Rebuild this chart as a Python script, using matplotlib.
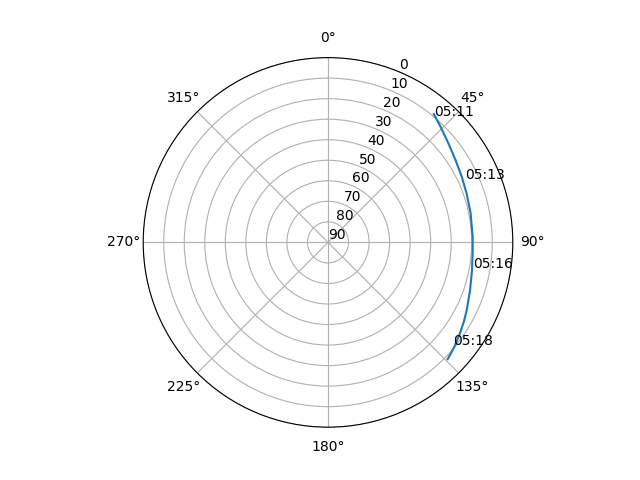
import numpy as np
import matplotlib
matplotlib.use("Agg")
import matplotlib.pyplot as plt

# satellite pass: azimuth (deg), elevation (deg)
azimuth = [39.5, 44.0, 50.1, 56.9, 63.7, 70.4, 78.4, 87.6,
           93.5, 101.4, 109.0, 116.4, 120.0, 123.6, 126.8, 129.8, 132.2, 134.3]
elevation = [9.0, 11.3, 13.9, 16.0, 17.4, 18.4, 19.1, 19.5,
             19.4, 18.5, 16.9, 14.7, 13.5, 12.3, 11.2, 10.1, 9.3, 8.6]

# time labels along the pass
label_times = ["05:11", "05:13", "05:16", "05:18"]
label_az = [39.9, 65.3, 100.2, 129.5]
label_el = [9.5, 16.6, 18.3, 11.2]

fig = plt.figure(figsize=(6.4, 4.8), dpi=100)
ax = fig.add_subplot(111, projection="polar")
ax.set_theta_zero_location("N")
ax.set_theta_direction(-1)

ax.plot(np.radians(azimuth), elevation)
for t, a, e in zip(label_times, label_az, label_el):
    ax.text(np.radians(a), e, t)

ax.set_yticks(range(0, 91, 10))
ax.set_ylim(90, 0)

fig.savefig("out.png")
